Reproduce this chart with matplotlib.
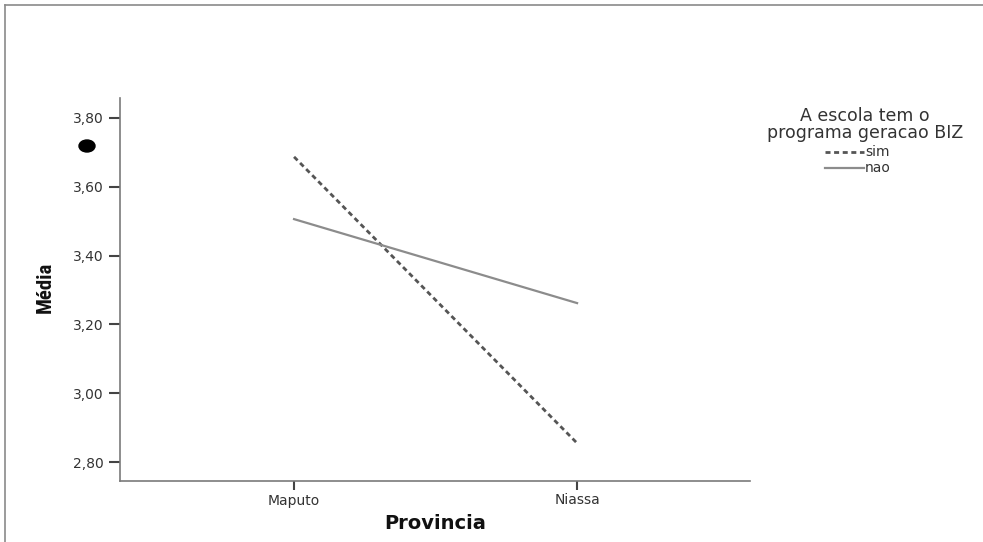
import matplotlib
matplotlib.use("Agg")
import matplotlib.pyplot as plt
from matplotlib.lines import Line2D
from matplotlib.patches import Ellipse

# dados
provincias = ["Maputo", "Niassa"]
sim = [3.687, 2.855]
nao = [3.506, 3.262]
yticks = [2.80, 3.00, 3.20, 3.40, 3.60, 3.80]
ytick_labels = ["2,80", "3,00", "3,20", "3,40", "3,60", "3,80"]
legenda_titulo = ["A escola tem o", "programa geracao BIZ"]

plt.rcParams["font.family"] = ["DejaVu Sans"]

W, H = 983, 542
fig = plt.figure(figsize=(W / 100, H / 100), dpi=100)
ax = fig.add_axes([120 / W, 1 - 481 / H, 630 / W, 383 / H])

x = range(len(provincias))
ax.plot(x, sim, color="#555555", lw=2.0, linestyle=(0, (1.8, 1.3)))
ax.plot(x, nao, color="#8c8c8c", lw=1.6)

ax.set_xlim(-0.615, 1.611)
ax.set_ylim(2.745, 3.858)
ax.set_xticks(list(x))
ax.set_xticklabels(provincias, fontsize=10, color="#333333")
ax.set_yticks(yticks)
ax.set_yticklabels(ytick_labels, fontsize=10, color="#333333")

for s in ["top", "right"]:
    ax.spines[s].set_visible(False)
for s in ["left", "bottom"]:
    ax.spines[s].set_color("#7a7a7a")
    ax.spines[s].set_linewidth(1.2)
ax.tick_params(axis="y", direction="out", length=8, width=1.5, color="#444444", pad=3.5)
ax.tick_params(axis="x", direction="out", length=6.5, width=1.5, color="#444444", pad=2.5)

ax.set_xlabel("Provincia", fontsize=14, fontweight="bold", color="#111111", labelpad=5)
ax.set_ylabel("Média", fontsize=15, fontweight="bold", color="#111111",
              family=["Roboto Condensed", "DejaVu Sans"])
ax.yaxis.set_label_coords(45.5 / W, 1 - 287 / H, transform=fig.transFigure)
ax.yaxis.label.set_va("center")

# legenda
fig.text(865 / W, 1 - 121 / H, legenda_titulo[0], ha="center", va="baseline",
         fontsize=12.5, color="#333333")
fig.text(865 / W, 1 - 138 / H, legenda_titulo[1], ha="center", va="baseline",
         fontsize=12.5, color="#333333")
fig.add_artist(Line2D([825 / W, 864 / W], [1 - 152 / H, 1 - 152 / H], color="#555555",
                      lw=2.0, linestyle=(0, (1.8, 1.3))))
fig.text(865 / W, 1 - 156 / H, "sim", ha="left", va="baseline", fontsize=10, color="#333333")
fig.add_artist(Line2D([825 / W, 864 / W], [1 - 168 / H, 1 - 168 / H], color="#8c8c8c", lw=1.6))
fig.text(865 / W, 1 - 172 / H, "nao", ha="left", va="baseline", fontsize=10, color="#333333")

# moldura da imagem
fig.add_artist(Line2D([5 / W, 5 / W], [0, 1 - 5 / H], color="#8a8a8a", lw=1.2))
fig.add_artist(Line2D([5 / W, 1], [1 - 5 / H, 1 - 5 / H], color="#8a8a8a", lw=1.2))

# ponto preto na margem
fig.add_artist(Ellipse((87 / W, 1 - 146 / H), 16 / W, 12 / H,
                       transform=fig.transFigure, color="black"))

fig.savefig("out.png", dpi=100)
